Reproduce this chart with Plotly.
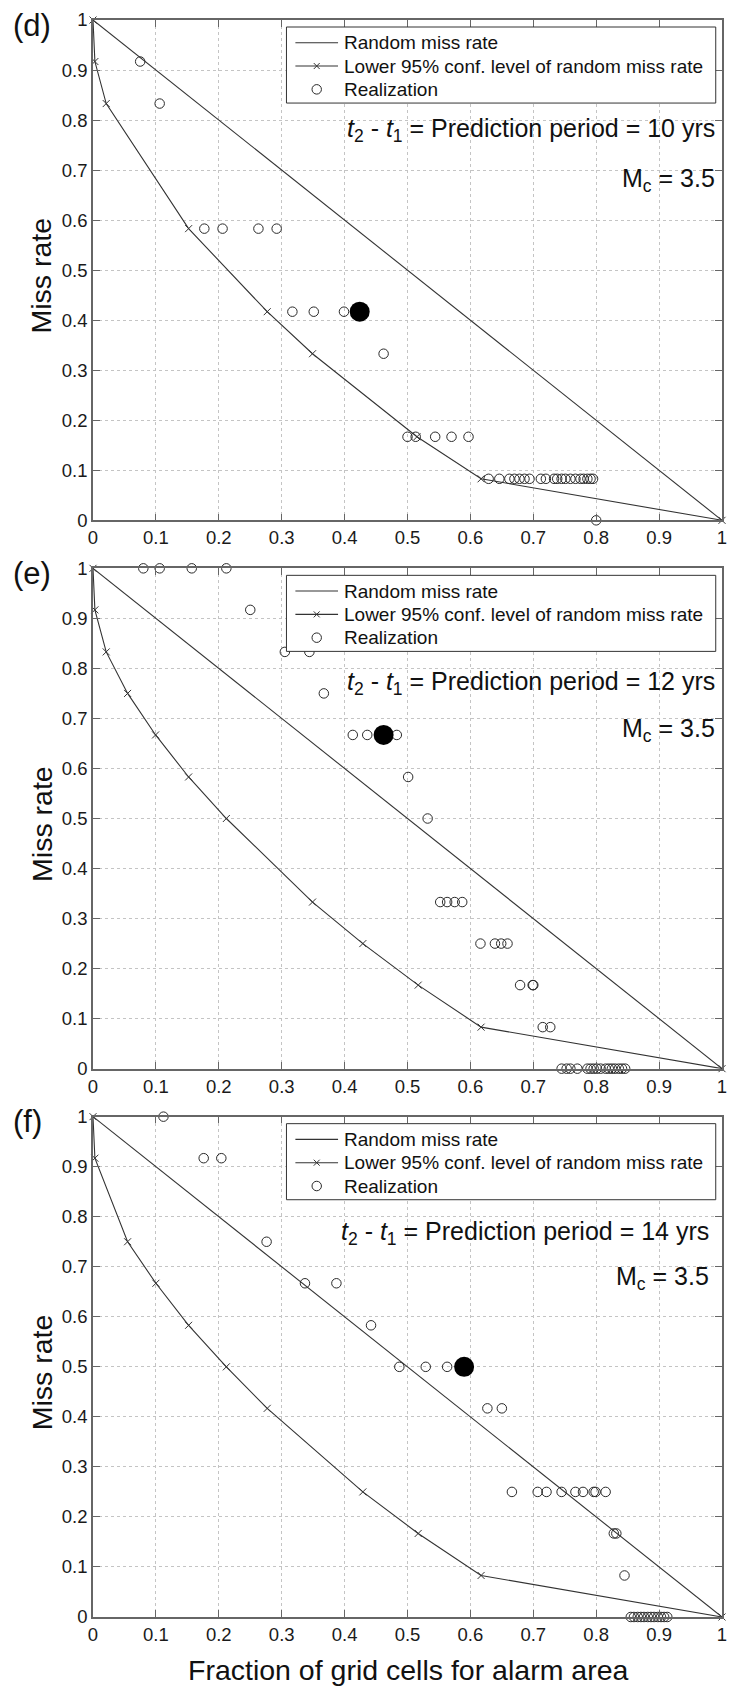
import plotly.graph_objects as go
from plotly.subplots import make_subplots

# ---------------- data ----------------
panel_labels = ["(d)", "(e)", "(f)"]
periods = ["10", "12", "14"]
mc_value = "3.5"
legend_labels = ["Random miss rate", "Lower 95% conf. level of random miss rate", "Realization"]

random_x = [0, 1]
random_y = [1, 0]

lower_x_d = [0, 0.003, 0.021, 0.152, 0.277, 0.349, 0.515, 0.617, 1.0]
lower_y_d = [1, 0.917, 0.833, 0.583, 0.417, 0.333, 0.167, 0.083, 0]

lower_x_e = [0, 0.003, 0.021, 0.055, 0.0995, 0.152, 0.212, 0.349, 0.429, 0.517, 0.617, 1.0]
lower_y_e = [1, 0.917, 0.833, 0.75, 0.667, 0.583, 0.5, 0.333, 0.25, 0.167, 0.083, 0]

lower_x_f = [0, 0.003, 0.055, 0.1, 0.152, 0.212, 0.277, 0.429, 0.517, 0.617, 1.0]
lower_y_f = [1, 0.917, 0.75, 0.667, 0.583, 0.5, 0.417, 0.25, 0.167, 0.083, 0]

real_x_d = [0.075, 0.106,
            0.177, 0.206, 0.263, 0.292,
            0.317, 0.351, 0.399,
            0.462,
            0.500, 0.513, 0.544, 0.570, 0.597,
            0.629, 0.646, 0.662, 0.670, 0.678, 0.686, 0.694, 0.712, 0.720, 0.733,
            0.738, 0.745, 0.751, 0.759, 0.767, 0.775, 0.780, 0.786, 0.791, 0.795,
            0.800]
real_y_d = [0.917, 0.833,
            0.583, 0.583, 0.583, 0.583,
            0.417, 0.417, 0.417,
            0.333,
            0.167, 0.167, 0.167, 0.167, 0.167,
            0.083, 0.083, 0.083, 0.083, 0.083, 0.083, 0.083, 0.083, 0.083, 0.083,
            0.083, 0.083, 0.083, 0.083, 0.083, 0.083, 0.083, 0.083, 0.083, 0.083,
            0.0]

real_x_e = [0.080, 0.106, 0.157, 0.212,
            0.250,
            0.305, 0.344,
            0.367,
            0.413, 0.436, 0.483,
            0.501,
            0.532,
            0.552, 0.563, 0.575, 0.587,
            0.616, 0.639, 0.649, 0.659,
            0.679, 0.699, 0.700,
            0.715, 0.727,
            0.745, 0.753, 0.759, 0.770, 0.786, 0.791, 0.796, 0.801,
            0.807, 0.815, 0.820, 0.825, 0.830, 0.836, 0.841, 0.846]
real_y_e = [1.0, 1.0, 1.0, 1.0,
            0.917,
            0.833, 0.833,
            0.75,
            0.667, 0.667, 0.667,
            0.583,
            0.5,
            0.333, 0.333, 0.333, 0.333,
            0.25, 0.25, 0.25, 0.25,
            0.167, 0.167, 0.167,
            0.083, 0.083,
            0, 0, 0, 0, 0, 0, 0, 0,
            0, 0, 0, 0, 0, 0, 0, 0]

real_x_f = [0.112,
            0.176, 0.204,
            0.276,
            0.337, 0.387,
            0.442,
            0.487, 0.529, 0.563,
            0.627, 0.650,
            0.666, 0.707, 0.721, 0.745, 0.767, 0.779, 0.796, 0.799, 0.815,
            0.828, 0.832,
            0.845,
            0.855, 0.860, 0.866, 0.871, 0.876, 0.882, 0.887, 0.892, 0.898, 0.903, 0.908, 0.913]
real_y_f = [1.0,
            0.917, 0.917,
            0.75,
            0.667, 0.667,
            0.583,
            0.5, 0.5, 0.5,
            0.417, 0.417,
            0.25, 0.25, 0.25, 0.25, 0.25, 0.25, 0.25, 0.25, 0.25,
            0.167, 0.167,
            0.083,
            0, 0, 0, 0, 0, 0, 0, 0, 0, 0, 0, 0]

best_x = [0.424, 0.462, 0.590]
best_y = [0.417, 0.667, 0.5]

tick_vals = [0, 0.1, 0.2, 0.3, 0.4, 0.5, 0.6, 0.7, 0.8, 0.9, 1]
tick_text = ["0", "0.1", "0.2", "0.3", "0.4", "0.5", "0.6", "0.7", "0.8", "0.9", "1"]

lower_x = [lower_x_d, lower_x_e, lower_x_f]
lower_y = [lower_y_d, lower_y_e, lower_y_f]
real_x = [real_x_d, real_x_e, real_x_f]
real_y = [real_y_d, real_y_e, real_y_f]

# ---------------- figure ----------------
W, H = 731, 1686
ML, MR, MT, MB = 93, 4, 20, 69
PW = W - ML - MR          # plot width in px
PH = 500                  # panel height in px
plot_h = H - MT - MB
gap = 48

fig = make_subplots(rows=3, cols=1, vertical_spacing=gap / plot_h)

FONT = "Liberation Sans, Arial, sans-serif"
TXT_C = "#111111"
LINE_C = "#333333"
AX_C = "#666666"
CIRC_SIZE = 9.5

for i in range(3):
    row = i + 1
    fig.add_trace(go.Scatter(x=random_x, y=random_y, mode="lines",
                             line=dict(color=LINE_C, width=1.1),
                             name=legend_labels[0], showlegend=False), row=row, col=1)
    fig.add_trace(go.Scatter(x=lower_x[i], y=lower_y[i], mode="lines+markers",
                             line=dict(color=LINE_C, width=1.1),
                             marker=dict(symbol="x-thin", size=7,
                                         line=dict(width=1, color=LINE_C), color=LINE_C),
                             name=legend_labels[1], showlegend=False,
                             cliponaxis=False), row=row, col=1)
    fig.add_trace(go.Scatter(x=real_x[i], y=real_y[i], mode="markers",
                             marker=dict(symbol="circle-open", size=CIRC_SIZE,
                                         line=dict(width=1, color="#2a2a2a"), color="#2a2a2a"),
                             name=legend_labels[2], showlegend=False,
                             cliponaxis=False), row=row, col=1)
    fig.add_trace(go.Scatter(x=[best_x[i]], y=[best_y[i]], mode="markers",
                             marker=dict(symbol="circle", size=20, color="black"),
                             showlegend=False, cliponaxis=False), row=row, col=1)

axis_common = dict(range=[0, 1], tickvals=tick_vals, ticktext=tick_text,
                   showgrid=True, gridcolor="#c4c4c4", griddash="dot", gridwidth=1,
                   zeroline=False, showline=True, linecolor=AX_C, linewidth=1.5,
                   mirror="ticks", ticks="inside", ticklen=7, tickcolor=AX_C,
                   tickwidth=1, tickfont=dict(family=FONT, size=18.5, color="#1a1a1a"))
for i in range(3):
    fig.update_xaxes(axis_common, row=i + 1, col=1)
    fig.update_yaxes(axis_common, row=i + 1, col=1)


def dx(px):
    return px / PW


def dy(px):
    return px / PH


# legend drawn in each panel (box, samples, labels)
box_x0, box_x1 = dx(288 - ML), dx(720.7 - ML)
box_y1, box_y0 = 1 - dy(7), 1 - dy(83)
row_y = [1 - dy(22.7), 1 - dy(46), 1 - dy(69.3)]
samp_x0, samp_x1 = dx(297 - ML), dx(340 - ML)
samp_xc = (samp_x0 + samp_x1) / 2
text_x = dx(343.5 - ML)

ann_period_y = [0.78, 0.77, 0.768]
ann_mc_y = [0.68, 0.676, 0.678]
ann_right = [dx(722 - ML), dx(722 - ML), dx(716 - ML)]

for i in range(3):
    xr = "x domain" if i == 0 else f"x{i + 1} domain"
    yr = "y domain" if i == 0 else f"y{i + 1} domain"
    # box
    fig.add_shape(type="rect", xref=xr, yref=yr, x0=box_x0, x1=box_x1, y0=box_y0, y1=box_y1,
                  line=dict(color="#333333", width=1), fillcolor="white", layer="above")
    # line samples
    for k in range(2):
        fig.add_shape(type="line", xref=xr, yref=yr, x0=samp_x0, x1=samp_x1,
                      y0=row_y[k], y1=row_y[k], line=dict(color=LINE_C, width=1.1),
                      layer="above")
    # x marker sample
    for s in (1, -1):
        fig.add_shape(type="line", xref=xr, yref=yr,
                      x0=samp_xc - dx(3), x1=samp_xc + dx(3),
                      y0=row_y[1] - s * dy(3), y1=row_y[1] + s * dy(3),
                      line=dict(color=LINE_C, width=1), layer="above")
    # circle sample
    r = CIRC_SIZE / 2
    fig.add_shape(type="circle", xref=xr, yref=yr,
                  x0=samp_xc - dx(r), x1=samp_xc + dx(r),
                  y0=row_y[2] - dy(r), y1=row_y[2] + dy(r),
                  line=dict(color="#2a2a2a", width=1), layer="above")
    for k in range(3):
        fig.add_annotation(xref=xr, yref=yr, x=text_x, y=row_y[k],
                           xanchor="left", yanchor="middle", showarrow=False,
                           text=legend_labels[k],
                           font=dict(family=FONT, size=19, color=TXT_C))

    fig.add_annotation(xref=xr, yref=yr, x=ann_right[i], y=ann_period_y[i],
                       xanchor="right", yanchor="middle", showarrow=False,
                       text=f"<i>t</i><sub>2</sub> - <i>t</i><sub>1</sub> = Prediction period = {periods[i]} yrs",
                       font=dict(family=FONT, size=25, color=TXT_C))
    fig.add_annotation(xref=xr, yref=yr, x=ann_right[i], y=ann_mc_y[i],
                       xanchor="right", yanchor="middle", showarrow=False,
                       text=f"M<sub>c</sub> = {mc_value}",
                       font=dict(family=FONT, size=25, color=TXT_C))
    fig.add_annotation(xref=xr, yref=yr, x=dx(10 - ML), y=1 - dy(5),
                       xanchor="left", yanchor="middle", showarrow=False,
                       text=panel_labels[i],
                       font=dict(family=FONT, size=31, color=TXT_C))
    fig.add_annotation(xref=xr, yref=yr, x=dx(41 - ML), y=0.49,
                       xanchor="center", yanchor="middle", showarrow=False, textangle=-90,
                       text="Miss rate",
                       font=dict(family=FONT, size=28.5, color=TXT_C))

fig.add_annotation(xref="x3 domain", yref="y3 domain", x=0.5, y=-dy(53),
                   xanchor="center", yanchor="middle", showarrow=False,
                   text="Fraction of grid cells for alarm area",
                   font=dict(family=FONT, size=28.5, color=TXT_C))

fig.update_layout(width=W, height=H, margin=dict(l=ML, r=MR, t=MT, b=MB),
                  plot_bgcolor="white", paper_bgcolor="white", showlegend=False,
                  font=dict(family=FONT, color=TXT_C))

fig.write_html("out.html")
